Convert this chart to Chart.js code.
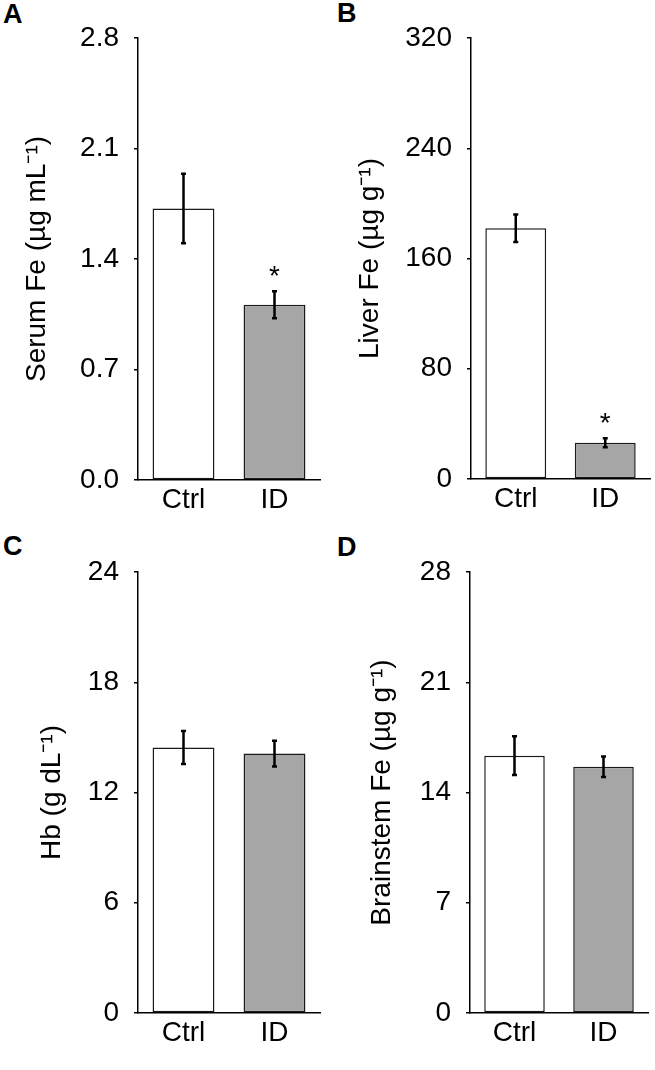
<!DOCTYPE html>
<html>
<head>
<meta charset="utf-8">
<script src="https://cdn.jsdelivr.net/npm/chart.js@4/dist/chart.umd.min.js"></script>
<style>
  body { margin: 0; background: #fff; width: 655px; height: 1070px; position: relative; overflow: hidden; font-family: "Liberation Sans", Arial, sans-serif; }
  .panel { position: absolute; }
  .letter { position: absolute; font-weight: bold; font-size: 27px; line-height: 1; color: #000; }
</style>
</head>
<body>
<div class="letter" style="left:3px;top:1px">A</div>
<div class="letter" style="left:337px;top:0px">B</div>
<div class="letter" style="left:3px;top:533px">C</div>
<div class="letter" style="left:337px;top:534px">D</div>

<div class="panel" style="left:0;top:0;width:327px;height:530px"><canvas id="chartA"></canvas></div>
<div class="panel" style="left:327px;top:0;width:328px;height:530px"><canvas id="chartB"></canvas></div>
<div class="panel" style="left:0;top:530px;width:327px;height:540px"><canvas id="chartC"></canvas></div>
<div class="panel" style="left:327px;top:530px;width:328px;height:540px"><canvas id="chartD"></canvas></div>

<script>
// Data (mean, error)
const categories = ['Ctrl', 'ID'];

const serumFe = [1.72, 1.11];
const serumFeErr = [0.22, 0.085];
const serumFeSig = [false, true];

const liverFe = [182, 26.3];
const liverFeErr = [10, 3.3];
const liverFeSig = [false, true];

const hb = [14.45, 14.12];
const hbErr = [0.9, 0.7];
const hbSig = [false, false];

const brainstemFe = [16.34, 15.64];
const brainstemFeErr = [1.23, 0.65];
const brainstemFeSig = [false, false];

const barColors = ['#ffffff', '#a6a6a6'];
const FONT = '"Liberation Sans", Arial, sans-serif';

// error bars + significance asterisk
const errorBarsPlugin = {
    id: 'errorBars',
    afterDatasetsDraw(chart, args, opts) {
        const ctx = chart.ctx;
        const yScale = chart.scales.y;
        const meta = chart.getDatasetMeta(0);
        const values = chart.data.datasets[0].data;
        ctx.save();
        ctx.strokeStyle = '#000';
        ctx.lineWidth = 2.5;
        meta.data.forEach((bar, i) => {
            const v = values[i];
            const e = opts.errors[i];
            const yTop = yScale.getPixelForValue(v + e);
            const yBot = yScale.getPixelForValue(v - e);
            ctx.beginPath();
            ctx.moveTo(bar.x, yTop);
            ctx.lineTo(bar.x, yBot);
            ctx.moveTo(bar.x - 2.5, yTop);
            ctx.lineTo(bar.x + 2.5, yTop);
            ctx.moveTo(bar.x - 2.5, yBot);
            ctx.lineTo(bar.x + 2.5, yBot);
            ctx.stroke();
            if (opts.marks[i]) {
                ctx.fillStyle = '#000';
                ctx.font = '28px ' + FONT;
                ctx.textAlign = 'center';
                ctx.textBaseline = 'alphabetic';
                ctx.fillText('*', bar.x, yTop - 6);
            }
        });
        ctx.restore();
    }
};

function makePanel(id, values, errors, marks, yMax, yStep, decimals, title, geom) {
    const ctx = document.getElementById(id).getContext('2d');
    return new Chart(ctx, {
        type: 'bar',
        data: {
            labels: categories,
            datasets: [{
                data: values,
                backgroundColor: barColors,
                borderColor: '#1a1a1a',
                borderWidth: 1.5,
                borderSkipped: false,
                barPercentage: 0.68,
                categoryPercentage: 1
            }]
        },
        options: {
            responsive: true,
            maintainAspectRatio: false,
            animation: false,
            layout: { padding: { top: geom.top, right: geom.right, left: 0, bottom: 0 } },
            plugins: {
                legend: { display: false },
                tooltip: { enabled: false },
                errorBars: { errors: errors, marks: marks }
            },
            scales: {
                x: {
                    afterFit: (scale) => { scale.height = geom.xHeight; },
                    grid: { display: false, drawTicks: false },
                    border: { display: true, color: '#000', width: 1.5 },
                    ticks: { color: '#000', font: { family: FONT, size: 28 }, padding: 3 }
                },
                y: {
                    min: 0,
                    max: yMax,
                    afterFit: (scale) => { scale.width = geom.axisLeft; },
                    grid: { display: true, drawOnChartArea: false, drawTicks: true, tickLength: 4, color: '#000', lineWidth: 1.5 },
                    border: { display: true, color: '#000', width: 1.5 },
                    ticks: {
                        stepSize: yStep,
                        color: '#000',
                        padding: 15,
                        font: { family: FONT, size: 28 },
                        callback: (v) => Number(v).toFixed(decimals)
                    },
                    title: {
                        display: true,
                        text: title,
                        color: '#000',
                        font: { family: FONT, size: 28, lineHeight: 1 },
                        padding: { top: geom.titlePad, bottom: 0 }
                    }
                }
            }
        },
        plugins: [errorBarsPlugin]
    });
}

makePanel('chartA', serumFe, serumFeErr, serumFeSig, 2.8, 0.7, 1, 'Serum Fe (\u00b5g mL\u207b\u00b9)',
    { axisLeft: 138, top: 38, right: 7, xHeight: 50, titlePad: 23 });
makePanel('chartB', liverFe, liverFeErr, liverFeSig, 320, 80, 0, 'Liver Fe (\u00b5g g\u207b\u00b9)',
    { axisLeft: 144, top: 38, right: 5, xHeight: 51, titlePad: 29 });
makePanel('chartC', hb, hbErr, hbSig, 24, 6, 0, 'Hb (g dL\u207b\u00b9)',
    { axisLeft: 138, top: 42, right: 7, xHeight: 57, titlePad: 38 });
makePanel('chartD', brainstemFe, brainstemFeErr, brainstemFeSig, 28, 7, 0, 'Brainstem Fe (\u00b5g g\u207b\u00b9)',
    { axisLeft: 143, top: 42, right: 7, xHeight: 57, titlePad: 41 });
</script>
</body>
</html>
